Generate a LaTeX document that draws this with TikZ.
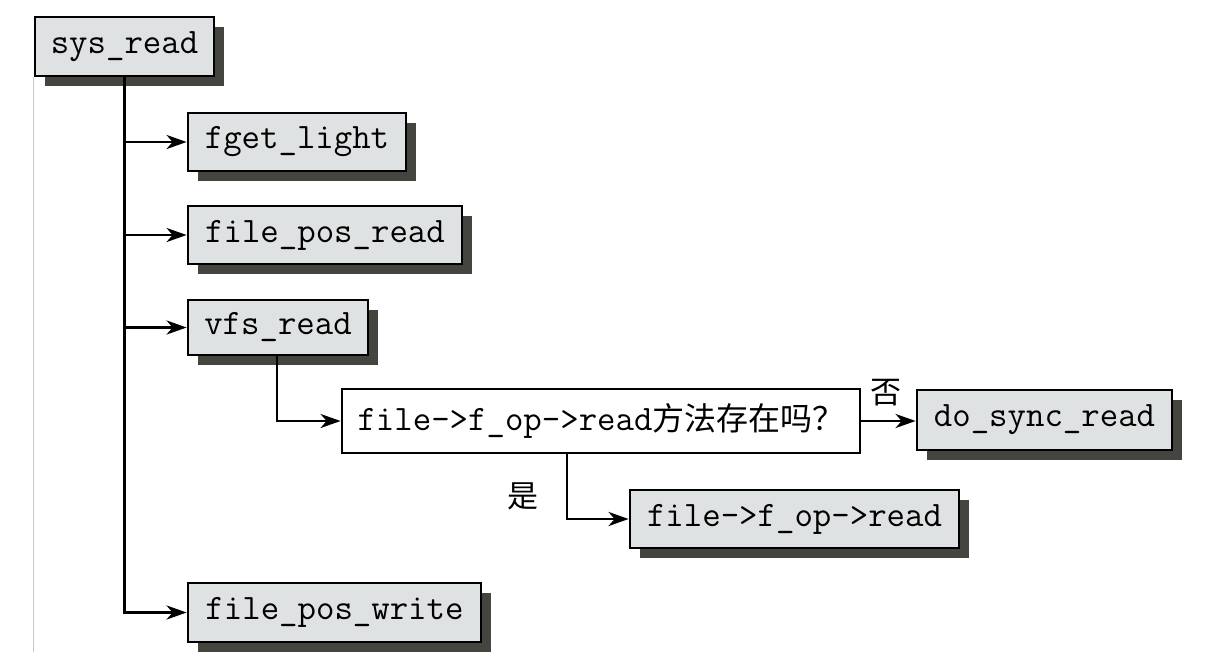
\documentclass[tikz,border=0pt]{standalone}
\usepackage{fontspec}
\newfontfamily\cjk{Noto Sans CJK SC}
\usetikzlibrary{arrows.meta,shadows}
\definecolor{boxfill}{HTML}{DFE2E2}
\definecolor{shadowcol}{HTML}{45453F}
\definecolor{edgegray}{HTML}{C8C8C8}
\tikzset{
  fnbox/.style={draw=black, line width=2.8pt, fill=boxfill, inner sep=0pt,
    font=\fontsize{35.8}{40}\selectfont\ttfamily,
    drop shadow={shadow xshift=10pt, shadow yshift=-10pt, fill=shadowcol, opacity=1}},
  decbox/.style={draw=black, line width=2.8pt, fill=white, inner sep=0pt,
    font=\fontsize{35.8}{40}\selectfont\ttfamily},
  conn/.style={line width=2.8pt, -{Stealth[length=20pt,width=14pt,inset=6pt]}},
  lbl/.style={font=\fontsize{31}{34}\selectfont\cjk, inner sep=0pt}
}
\begin{document}
\begin{tikzpicture}[x=1pt,y=-1pt]
\useasboundingbox[fill=white] (0,0) rectangle (1216,670);
\draw[edgegray, line width=1pt] (33,77) -- (33,652);

\node[fnbox, minimum width=179pt, minimum height=59pt] (sysread) at (124.5,46.5) {sys\_read};
\node[fnbox, minimum width=218pt, minimum height=58pt] (fget) at (297,142) {fget\_light};
\node[fnbox, minimum width=274pt, minimum height=58pt] (fpr) at (325,235) {file\_pos\_read};
\node[fnbox, minimum width=180pt, minimum height=55pt] (vfs) at (278,327.5) {vfs\_read};
\node[decbox, minimum width=518pt, minimum height=64pt] (dec) at (601,421) {file->f\_op->read{\cjk\fontsize{32}{36}\selectfont 方法存在吗？}};
\node[fnbox, minimum width=255pt, minimum height=60pt] (dsr) at (1044.5,420) {do\_sync\_read};
\node[fnbox, minimum width=329pt, minimum height=58pt] (fopr) at (794.5,519) {file->f\_op->read};
\node[fnbox, minimum width=293pt, minimum height=59pt] (fpw) at (334.5,612.5) {file\_pos\_write};

\draw[conn] (sysread.south) |- (fpw.west);
\draw[conn] (sysread.south |- fget.west) -- (fget.west);
\draw[conn] (sysread.south |- fpr.west) -- (fpr.west);
\draw[conn] (sysread.south |- vfs.west) -- (vfs.west);
\draw[conn] ([xshift=-1pt]vfs.south) |- (dec.west);
\draw[conn] (dec.east) -- (dec.east -| dsr.west);
\draw[conn] ([xshift=-34pt]dec.south) |- (fopr.west);

\node[lbl] (no) at (886,393) {否};
\node[lbl] (yes) at (523,496) {是};
\end{tikzpicture}
\end{document}
